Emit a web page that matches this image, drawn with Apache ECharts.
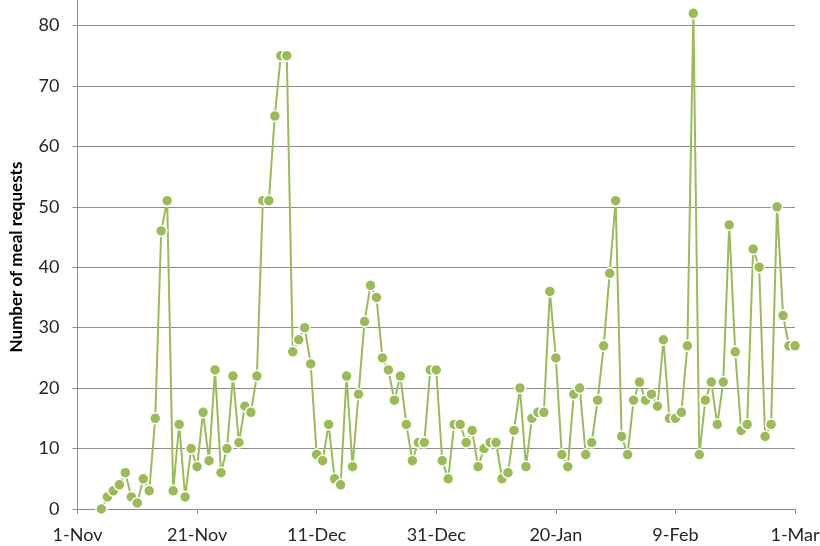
<!DOCTYPE html>
<html>
<head>
<meta charset="utf-8">
<title>Meal requests</title>
<script src="https://cdn.jsdelivr.net/npm/echarts@6/dist/echarts.min.js"></script>
<style>
  html, body { margin: 0; padding: 0; background: #ffffff; overflow: hidden; width: 820px; height: 546px; position: relative; }
  /* the plot runs up past the top edge of the page, so the 90 gridline sits above it */
  #chart { position: absolute; left: 0; top: -35px; width: 820px; height: 581px; }
</style>
</head>
<body>
<div id="chart"></div>
<script>
// Daily meal requests, one value per day starting 5 Nov (day 4 counted from 1 Nov)
const firstDay = 4;
const requests = [
  0, 2, 3, 4, 6, 2, 1, 5, 3, 15,
  46, 51, 3, 14, 2, 10, 7, 16, 8, 23,
  6, 10, 22, 11, 17, 16, 22, 51, 51, 65,
  75, 75, 26, 28, 30, 24, 9, 8, 14, 5,
  4, 22, 7, 19, 31, 37, 35, 25, 23, 18,
  22, 14, 8, 11, 11, 23, 23, 8, 5, 14,
  14, 11, 13, 7, 10, 11, 11, 5, 6, 13,
  20, 7, 15, 16, 16, 36, 25, 9, 7, 19,
  20, 9, 11, 18, 27, 39, 51, 12, 9, 18,
  21, 18, 19, 17, 28, 15, 15, 16, 27, 82,
  9, 18, 21, 14, 21, 47, 26, 13, 14, 43,
  40, 12, 14, 50, 32, 27, 27
];
// Date labels every 20 days from 1 Nov
const dateTicks = ['1-Nov', '21-Nov', '11-Dec', '31-Dec', '20-Jan', '9-Feb', '1-Mar'];
const yTicks = [0, 10, 20, 30, 40, 50, 60, 70, 80, 90];
const yTitle = 'Number of meal requests';

const tickStep = 20;
const topShift = 35; // height of the chart hidden above the page
const points = requests.map((v, i) => [firstDay + i, v]);

const labelFont = 'Lato, "Open Sans", "Liberation Sans", sans-serif';
const gridGray = '#8c8c8c';
const green = '#9bbb59';

const chart = echarts.init(document.getElementById('chart'), null, { renderer: 'canvas' });
chart.setOption({
  animation: false,
  backgroundColor: '#ffffff',
  grid: {
    left: 77.5, right: 25, top: 0, bottom: 37,
    containLabel: false,
    outerBoundsMode: 'none'
  },
  xAxis: {
    type: 'value',
    min: 0,
    max: tickStep * (dateTicks.length - 1),
    interval: tickStep,
    axisLine: { show: true, lineStyle: { color: gridGray, width: 1 } },
    axisTick: { show: true, length: 5, lineStyle: { color: gridGray } },
    splitLine: { show: false },
    axisLabel: {
      margin: 17,
      color: '#262626',
      fontFamily: labelFont,
      fontSize: 18,
      formatter: v => dateTicks[Math.round(v / tickStep)] || ''
    }
  },
  yAxis: {
    type: 'value',
    min: yTicks[0],
    max: yTicks[yTicks.length - 1],
    interval: yTicks[1] - yTicks[0],
    axisLine: { show: true, lineStyle: { color: gridGray, width: 1 } },
    axisTick: { show: true, length: 5, lineStyle: { color: gridGray } },
    splitLine: { show: true, lineStyle: { color: gridGray, width: 1 } },
    axisLabel: {
      margin: 18,
      color: '#262626',
      fontFamily: labelFont,
      fontSize: 18
    }
  },
  graphic: [{
    type: 'text',
    x: 17,
    y: 257 + topShift,
    rotation: Math.PI / 2,
    style: {
      text: yTitle,
      fontFamily: labelFont,
      fontSize: 17,
      fontWeight: 'bold',
      fill: '#000000',
      align: 'center',
      verticalAlign: 'middle'
    }
  }],
  series: [{
    type: 'line',
    data: points,
    clip: false,
    symbol: 'circle',
    symbolSize: 11,
    showAllSymbol: true,
    lineStyle: { color: green, width: 2 },
    itemStyle: { color: green, borderColor: '#ffffff', borderWidth: 1.5 }
  }]
});
</script>
</body>
</html>
